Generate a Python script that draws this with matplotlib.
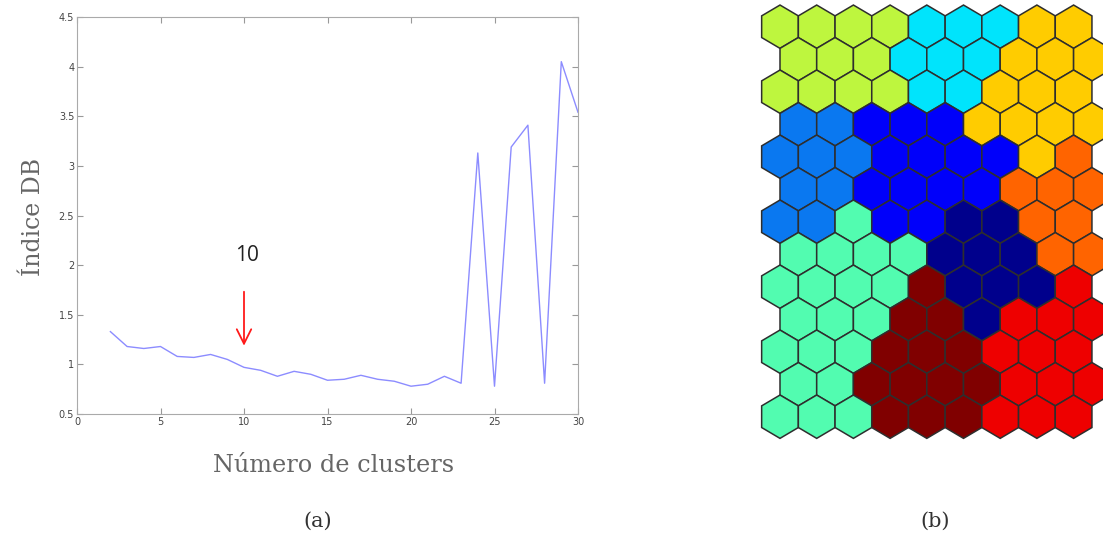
import matplotlib
matplotlib.use('Agg')
import matplotlib.pyplot as plt
from matplotlib.patches import Polygon
import numpy as np

# DB index per number of clusters
clusters = [2, 3, 4, 5, 6, 7, 8, 9, 10, 11, 12, 13, 14, 15, 16, 17, 18, 19, 20,
            21, 22, 23, 24, 25, 26, 27, 28, 29, 30]
db_index = [1.33, 1.18, 1.16, 1.18, 1.08, 1.07, 1.10, 1.05, 0.97, 0.94, 0.88, 0.93,
            0.90, 0.84, 0.85, 0.89, 0.85, 0.83, 0.78, 0.80, 0.88, 0.81, 3.13, 0.78,
            3.19, 3.41, 0.81, 4.05, 3.54]
best_k = 10

# SOM map: cluster label of each hexagon, row by row (odd rows shifted right)
som_rows = [
    "GGGGCCCOO",
    "GGGCCCOOO",
    "GGGGCCOOO",
    "BBUUUOOOO",
    "BBBUUUUOR",
    "BBUUUURRR",
    "BBTUUNNRR",
    "TTTTNNNRR",
    "TTTTDNNNE",
    "TTTDDNEEE",
    "TTTDDDEEE",
    "TTDDDDEEE",
    "TTTDDDEEE",
]
cluster_colors = {
    'G': '#bef63e', 'C': '#00e4fc', 'O': '#ffcc00', 'B': '#0a78f0',
    'U': '#0000fa', 'N': '#00008c', 'R': '#ff6400', 'T': '#52fcb0',
    'D': '#800000', 'E': '#ee0000',
}

W, H = 1103, 539
fig = plt.figure(figsize=(W / 100, H / 100), dpi=100)

def px_axes(x0, y0, x1, y1):
    return fig.add_axes([x0 / W, 1 - y1 / H, (x1 - x0) / W, (y1 - y0) / H])

# (a) DB index curve
ax = px_axes(77, 17, 578, 414)
ax.plot(clusters, db_index, color='#8c8cff', lw=1.0)
ax.set_xlim(0, 30)
ax.set_ylim(0.5, 4.5)
ax.set_xticks(np.arange(0, 31, 5))
ax.set_yticks(np.arange(0.5, 4.51, 0.5))
ax.set_yticklabels(['0.5', '1', '1.5', '2', '2.5', '3', '3.5', '4', '4.5'])
ax.tick_params(direction='in', length=4, labelsize=7, colors='#999999',
               labelcolor='#444444', top=True, right=True, pad=2)
for s in ax.spines.values():
    s.set_color('#aaaaaa')
ax.annotate('', xy=(best_k, 1.16), xytext=(best_k, 1.76),
            arrowprops=dict(arrowstyle='->', color='#ff1a1a', lw=1.3,
                            mutation_scale=26))
ax.text(best_k + 0.15, 2.1, str(best_k), ha='center', va='center',
        fontsize=15, family='Open Sans', color='#222222')

serif = 'DejaVu Serif'
fig.text(213 / W, 1 - 466 / H, 'Número de clusters', ha='left', va='center',
         fontsize=17.3, family=serif, color='#666666')
fig.text(33 / W, 1 - 217 / H, 'Índice DB', ha='center', va='center',
         rotation=90, fontsize=17, family=serif, color='#666666')
fig.text(318 / W, 1 - 521 / H, '(a)', ha='center', va='center',
         fontsize=15, family=serif, color='#333333')
fig.text(935 / W, 1 - 521 / H, '(b)', ha='center', va='center',
         fontsize=15, family=serif, color='#333333')

# (b) SOM hexagon map, one column = 1 unit, one row = 1 unit
col0, dcol = 780.0, 36.7
row0, drow = 26.7, 32.5
hx = fig.add_axes([750 / W, 0, (W - 750) / W, 1])
hx.set_xlim((750 - col0) / dcol, (W - col0) / dcol)
hx.set_ylim((H - row0) / drow, (0 - row0) / drow)
hx.axis('off')
hex_shape = np.array([[0, -2 / 3], [0.5, -1 / 3], [0.5, 1 / 3],
                      [0, 2 / 3], [-0.5, 1 / 3], [-0.5, -1 / 3]])
for r, row in enumerate(som_rows):
    shift = 0.5 if r % 2 else 0.0
    for c, lab in enumerate(row):
        hx.add_patch(Polygon(hex_shape + [c + shift, r], closed=True,
                             facecolor=cluster_colors[lab], edgecolor='#2e2e2e',
                             lw=1.1, clip_on=True))

fig.savefig('out.png', dpi=100)
